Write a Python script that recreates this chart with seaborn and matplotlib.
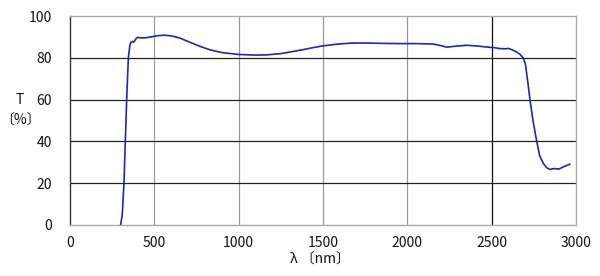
import matplotlib
matplotlib.use("Agg")
import matplotlib.pyplot as plt
import seaborn as sns
import pandas as pd

wavelength = [300, 310, 320, 328, 336, 346, 355, 362, 370, 378, 390, 400, 420, 450, 480,
              520, 560, 600, 650, 700, 770, 830, 900, 1000, 1100, 1166, 1250, 1363, 1450,
              1500, 1580, 1660, 1750, 1850, 1956, 2050, 2152, 2190, 2233, 2280, 2351, 2420,
              2490, 2520, 2549, 2580, 2600, 2630, 2648, 2670, 2687, 2700, 2715, 2727, 2745,
              2766, 2785, 2806, 2825, 2845, 2870, 2900, 2930, 2964]
transmittance = [0, 5, 20, 40, 60, 80, 86, 87.5, 87.8, 87.5, 89, 89.8, 89.5, 89.6, 90,
                 90.6, 90.8, 90.5, 89.5, 87.8, 85.5, 83.8, 82.5, 81.6, 81.3, 81.4, 82, 83.6, 85,
                 85.7, 86.5, 87, 87.1, 86.9, 86.8, 86.8, 86.6, 86, 85.1, 85.5, 86, 85.6,
                 85.0, 84.8, 84.4, 84.3, 84.5, 83.5, 82.8, 81.5, 80, 77, 68, 60, 50,
                 40.5, 33, 29.5, 27.5, 26.6, 27, 26.8, 28, 29.1]
x_ticks = [0, 500, 1000, 1500, 2000, 2500, 3000]
y_ticks = [0, 20, 40, 60, 80, 100]

sns.set_theme(style="white")
plt.rcParams['font.family'] = ['Noto Sans CJK JP', 'DejaVu Sans']

df = pd.DataFrame({"wl": wavelength, "T": transmittance})

fig = plt.figure(figsize=(6, 2.76), dpi=100)
ax = fig.add_axes([70/600, 1-225/276, (576-70)/600, (225-16)/276])

for v in x_ticks[1:-1]:
    ax.axvline(v, color="#111111" if v == 2500 else "#999999", lw=0.9, zorder=1)
for v in y_ticks[1:-1]:
    ax.axhline(v, color="#222222", lw=0.9, zorder=1)

sns.lineplot(data=df, x="wl", y="T", ax=ax, color="#2424b0", lw=1.2, zorder=3)

ax.set_xlim(0, 3000)
ax.set_ylim(0, 100)
ax.set_xticks(x_ticks)
ax.set_yticks(y_ticks)
ax.tick_params(axis="x", length=0, pad=8, labelsize=10, colors="#111111")
ax.tick_params(axis="y", length=0, pad=13, labelsize=10, colors="#111111")
for s in ["top", "right", "bottom"]:
    ax.spines[s].set_color("#aaaaaa")
    ax.spines[s].set_linewidth(1.0)
ax.spines["left"].set_color("#333333")
ax.spines["left"].set_linewidth(1.0)

ax.set_xlabel("")
ax.set_ylabel("")
fig.text(20/600, 1-100/276, "T", ha="center", va="center", fontsize=10, color="#111111")
fig.text(20/600, 1-121/276, "〔%〕", ha="center", va="center", fontsize=10, color="#111111")
fig.text(320/600, 1-260/276, "λ 〔nm〕", ha="center", va="center", fontsize=10, color="#111111")

fig.savefig("out.png", dpi=100)
